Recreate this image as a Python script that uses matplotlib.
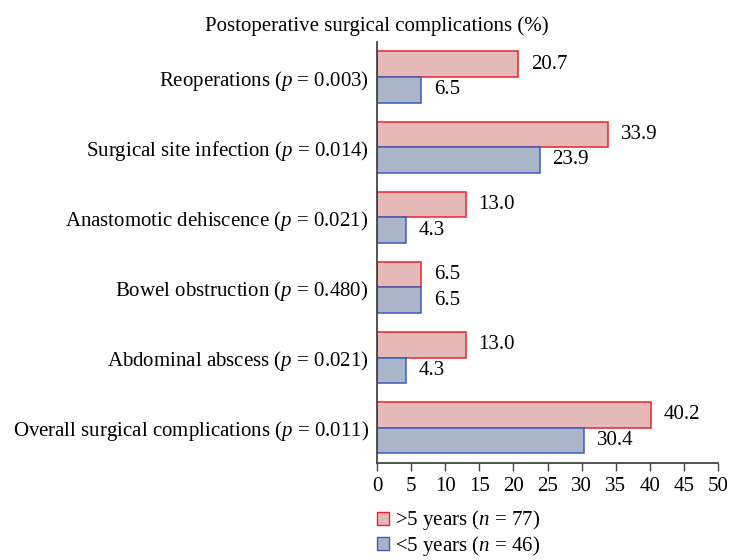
import numpy as np
import matplotlib
matplotlib.use("Agg")
from matplotlib import pyplot as plt
from matplotlib.patches import Patch

plt.rcParams['font.family'] = ['Liberation Serif', 'DejaVu Serif']
plt.rcParams['mathtext.fontset'] = 'custom'
plt.rcParams['mathtext.rm'] = 'Liberation Serif'
plt.rcParams['mathtext.it'] = 'Liberation Serif:italic'

categories = ["Reoperations", "Surgical site infection", "Anastomotic dehiscence",
              "Bowel obstruction", "Abdominal abscess", "Overall surgical complications"]
p_values = ["0.003", "0.014", "0.021", "0.480", "0.021", "0.011"]
over5 = [20.7, 33.9, 13.0, 6.5, 13.0, 40.2]
under5 = [6.5, 23.9, 4.3, 6.5, 4.3, 30.4]
xticks = list(range(0, 55, 5))

red_fill, red_edge = "#e6b9b9", "#e8232c"
blue_fill, blue_edge = "#abb5c9", "#3b5cc0"
fs = 15

fig = plt.figure(figsize=(7.3, 5.6), dpi=100)
ax = fig.add_axes([0.5164, 0.1738, 0.4672, 0.7512])

y = np.arange(len(categories))
h = 0.365
ax.barh(y - h / 2, over5, height=h, color=red_fill, edgecolor=red_edge, linewidth=1.1)
ax.barh(y + h / 2, under5, height=h, color=blue_fill, edgecolor=blue_edge, linewidth=1.1)

for yi, v in zip(y, over5):
    ax.annotate(f"{v:.1f}", (v, yi - h / 2), xytext=(9, 0), textcoords="offset points",
                va="center", ha="left", fontsize=fs)
for yi, v in zip(y, under5):
    ax.annotate(f"{v:.1f}", (v, yi + h / 2), xytext=(9, 0), textcoords="offset points",
                va="center", ha="left", fontsize=fs)

ax.set_yticks(y)
ax.set_yticklabels([f"{c} ($p$ = {p})" for c, p in zip(categories, p_values)], fontsize=fs)
ax.set_xticks(xticks)
ax.set_xticklabels([str(t) for t in xticks], fontsize=fs)
ax.set_xlim(0, 50)
ax.set_ylim(-0.5, 5.5)
ax.invert_yaxis()

for s in ["top", "right"]:
    ax.spines[s].set_visible(False)
for s in ["left", "bottom"]:
    ax.spines[s].set_color("#444444")
    ax.spines[s].set_linewidth(1.3)
ax.tick_params(axis="y", length=0, pad=6)
ax.tick_params(axis="x", length=6, width=1, color="#444444", pad=4)

fig.text(0.516, 0.953, "Postoperative surgical complications (%)", ha="center", va="center", fontsize=fs)

handles = [Patch(facecolor=red_fill, edgecolor=red_edge, label=">5 years ($n$ = 77)"),
           Patch(facecolor=blue_fill, edgecolor=blue_edge, label="<5 years ($n$ = 46)")]
fig.legend(handles=handles, loc="upper left", bbox_to_anchor=(0.516, 0.092), frameon=False,
           fontsize=fs, handlelength=0.6, handleheight=0.6, handletextpad=0.3,
           labelspacing=0.08, borderaxespad=0, borderpad=0)

fig.savefig("out.png", dpi=100)
